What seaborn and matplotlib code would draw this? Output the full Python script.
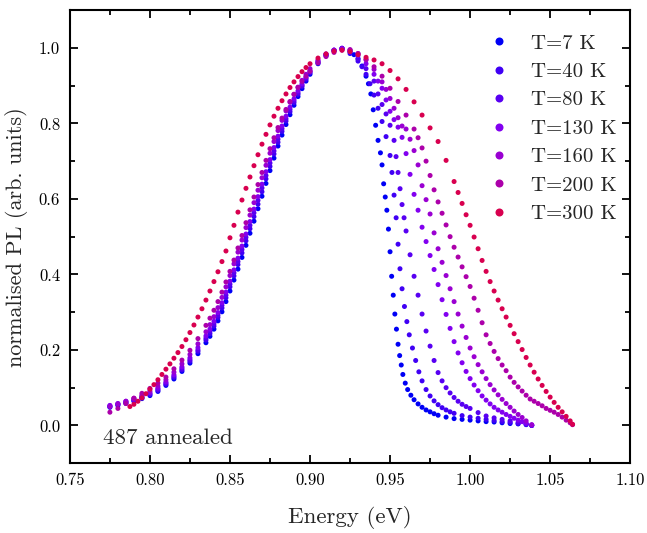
import numpy as np
import pandas as pd
import matplotlib
matplotlib.use("Agg")
import matplotlib.pyplot as plt
import seaborn as sns

# rising edge energies shared by the 7-200 K spectra (eV)
e_rise = [0.775, 0.780, 0.785, 0.790, 0.795, 0.800, 0.805, 0.810, 0.815, 0.820,
          0.825, 0.830, 0.835, 0.8375, 0.840, 0.8425, 0.845, 0.8475, 0.850, 0.8525,
          0.855, 0.8575, 0.860, 0.8625, 0.865, 0.8675, 0.870, 0.8725, 0.875, 0.8775,
          0.880, 0.8825, 0.885, 0.8875, 0.890, 0.8925, 0.895, 0.8975, 0.900, 0.905,
          0.910, 0.915, 0.920]

rise_7 = [0.048, 0.053, 0.058, 0.064, 0.071, 0.079, 0.090, 0.106, 0.123, 0.143,
          0.165, 0.190, 0.219, 0.236, 0.255, 0.277, 0.301, 0.328, 0.356, 0.385,
          0.414, 0.445, 0.477, 0.509, 0.541, 0.574, 0.607, 0.641, 0.675, 0.708,
          0.740, 0.769, 0.797, 0.823, 0.848, 0.871, 0.892, 0.912, 0.930, 0.958,
          0.979, 0.992, 0.998]
rise_40 = [0.050, 0.055, 0.060, 0.066, 0.073, 0.082, 0.093, 0.109, 0.127, 0.147,
           0.170, 0.196, 0.226, 0.243, 0.263, 0.286, 0.311, 0.338, 0.367, 0.396,
           0.426, 0.457, 0.489, 0.521, 0.553, 0.586, 0.619, 0.653, 0.686, 0.719,
           0.750, 0.779, 0.806, 0.831, 0.855, 0.877, 0.898, 0.917, 0.934, 0.961,
           0.981, 0.993, 0.999]
rise_80 = [0.052, 0.057, 0.062, 0.068, 0.075, 0.084, 0.096, 0.112, 0.130, 0.151,
           0.174, 0.200, 0.231, 0.249, 0.269, 0.292, 0.318, 0.345, 0.374, 0.404,
           0.434, 0.466, 0.498, 0.530, 0.563, 0.596, 0.629, 0.662, 0.695, 0.727,
           0.758, 0.786, 0.812, 0.837, 0.860, 0.881, 0.901, 0.920, 0.937, 0.963,
           0.982, 0.994, 0.999]
rise_130 = [0.053, 0.058, 0.064, 0.070, 0.077, 0.087, 0.099, 0.115, 0.134, 0.155,
            0.179, 0.206, 0.237, 0.255, 0.276, 0.299, 0.325, 0.353, 0.382, 0.412,
            0.443, 0.475, 0.507, 0.540, 0.573, 0.606, 0.639, 0.672, 0.704, 0.736,
            0.766, 0.793, 0.819, 0.843, 0.865, 0.886, 0.905, 0.923, 0.940, 0.965,
            0.983, 0.994, 0.998]
rise_160 = [0.050, 0.057, 0.064, 0.072, 0.080, 0.091, 0.104, 0.121, 0.141, 0.163,
            0.188, 0.216, 0.248, 0.267, 0.288, 0.312, 0.339, 0.367, 0.397, 0.428,
            0.459, 0.491, 0.524, 0.557, 0.590, 0.623, 0.656, 0.689, 0.721, 0.752,
            0.781, 0.808, 0.833, 0.856, 0.877, 0.896, 0.914, 0.930, 0.945, 0.968,
            0.984, 0.994, 0.997]
rise_200 = [0.035, 0.045, 0.058, 0.072, 0.085, 0.098, 0.112, 0.128, 0.150, 0.173,
            0.199, 0.230, 0.265, 0.284, 0.305, 0.328, 0.353, 0.380, 0.408, 0.438,
            0.470, 0.503, 0.537, 0.571, 0.605, 0.638, 0.670, 0.702, 0.733, 0.762,
            0.789, 0.814, 0.837, 0.858, 0.877, 0.895, 0.911, 0.925, 0.938, 0.960,
            0.977, 0.988, 0.994]

# 300 K has its own rising edge
e_rise_300 = [0.7875, 0.790, 0.7925, 0.795, 0.7975, 0.800, 0.8025, 0.805, 0.8075, 0.810,
              0.8125, 0.815, 0.8175, 0.820, 0.8225, 0.825, 0.8275, 0.830, 0.8325, 0.835,
              0.8375, 0.840, 0.8425, 0.845, 0.8475, 0.850, 0.8525, 0.855, 0.8575, 0.860,
              0.8625, 0.865, 0.8675, 0.870, 0.8725, 0.875, 0.8775, 0.880, 0.8825, 0.885,
              0.8875, 0.890, 0.8925, 0.895, 0.8975, 0.900, 0.905, 0.910, 0.915, 0.920]
rise_300 = [0.050, 0.056, 0.064, 0.073, 0.084, 0.096, 0.108, 0.121, 0.135, 0.149,
            0.163, 0.178, 0.193, 0.209, 0.227, 0.246, 0.266, 0.287, 0.309, 0.332,
            0.356, 0.381, 0.407, 0.434, 0.462, 0.497, 0.530, 0.565, 0.597, 0.628,
            0.658, 0.688, 0.717, 0.745, 0.771, 0.796, 0.819, 0.840, 0.860, 0.878,
            0.895, 0.910, 0.924, 0.937, 0.948, 0.958, 0.973, 0.984, 0.991, 0.994]

# high energy edges
e_fall_7 = [0.925, 0.9275, 0.930, 0.9325, 0.935, 0.9365, 0.938, 0.9395, 0.941, 0.9425,
            0.944, 0.945, 0.946, 0.947, 0.948, 0.949, 0.950, 0.951, 0.952, 0.953,
            0.954, 0.955, 0.956, 0.957, 0.958, 0.9595, 0.961, 0.963, 0.965, 0.9675,
            0.970, 0.9725, 0.975, 0.9775, 0.980, 0.985, 0.990, 0.995, 1.000, 1.005,
            1.010, 1.015, 1.020, 1.025, 1.030, 1.035, 1.0385]
pl_fall_7 = [0.990, 0.982, 0.970, 0.952, 0.925, 0.905, 0.878, 0.836, 0.795, 0.755,
             0.722, 0.690, 0.640, 0.605, 0.570, 0.520, 0.460, 0.395, 0.345, 0.295,
             0.255, 0.215, 0.185, 0.160, 0.135, 0.112, 0.095, 0.080, 0.068, 0.057,
             0.048, 0.041, 0.036, 0.031, 0.027, 0.022, 0.018, 0.016, 0.014, 0.012,
             0.010, 0.009, 0.007, 0.005, 0.004, 0.002, 0.000]

e_fall_40 = [0.925, 0.930, 0.9325, 0.935, 0.9375, 0.940, 0.9425, 0.945, 0.9475, 0.950,
             0.9512, 0.9525, 0.9538, 0.955, 0.9562, 0.9575, 0.959, 0.9605, 0.962, 0.964,
             0.966, 0.968, 0.970, 0.9725, 0.975, 0.9775, 0.980, 0.9825, 0.985, 0.9875,
             0.990, 0.995, 1.000, 1.005, 1.010, 1.015, 1.020, 1.025, 1.030, 1.035,
             1.0385]
pl_fall_40 = [0.985, 0.965, 0.950, 0.930, 0.905, 0.875, 0.840, 0.805, 0.765, 0.715,
              0.670, 0.610, 0.550, 0.480, 0.415, 0.362, 0.315, 0.275, 0.240, 0.205,
              0.172, 0.142, 0.118, 0.095, 0.078, 0.065, 0.055, 0.047, 0.041, 0.036,
              0.032, 0.026, 0.022, 0.019, 0.016, 0.013, 0.010, 0.008, 0.005, 0.003,
              0.000]

e_fall_80 = [0.925, 0.930, 0.935, 0.940, 0.9425, 0.945, 0.9475, 0.950, 0.9525, 0.95375,
             0.955, 0.95625, 0.9575, 0.95875, 0.960, 0.9625, 0.965, 0.9675, 0.970, 0.9725,
             0.975, 0.9775, 0.980, 0.9825, 0.985, 0.9875, 0.990, 0.9925, 0.995, 0.9975,
             1.000, 1.005, 1.010, 1.015, 1.020, 1.025, 1.030, 1.035, 1.0385]
pl_fall_80 = [0.990, 0.972, 0.945, 0.912, 0.878, 0.850, 0.825, 0.795, 0.755, 0.712,
              0.670, 0.627, 0.585, 0.550, 0.515, 0.452, 0.395, 0.345, 0.295, 0.250,
              0.210, 0.172, 0.140, 0.118, 0.100, 0.086, 0.074, 0.064, 0.056, 0.050,
              0.045, 0.034, 0.025, 0.020, 0.016, 0.012, 0.008, 0.004, 0.000]

e_fall_130 = [0.925, 0.930, 0.935, 0.940, 0.9425, 0.945, 0.9475, 0.950, 0.9525, 0.955,
              0.9575, 0.960, 0.9625, 0.965, 0.9675, 0.970, 0.9725, 0.975, 0.9775, 0.980,
              0.9825, 0.985, 0.9875, 0.990, 0.9925, 0.995, 0.9975, 1.000, 1.0025, 1.005,
              1.0075, 1.010, 1.0125, 1.015, 1.0175, 1.020, 1.0225, 1.025, 1.0275, 1.030,
              1.0325, 1.035, 1.0385]
pl_fall_130 = [0.993, 0.980, 0.958, 0.930, 0.912, 0.893, 0.862, 0.832, 0.810, 0.790,
               0.763, 0.720, 0.665, 0.612, 0.570, 0.525, 0.487, 0.450, 0.413, 0.373,
               0.333, 0.294, 0.257, 0.222, 0.192, 0.166, 0.143, 0.124, 0.107, 0.092,
               0.078, 0.067, 0.057, 0.048, 0.041, 0.035, 0.029, 0.024, 0.019, 0.014,
               0.010, 0.006, 0.001]

e_fall_160 = [0.925, 0.930, 0.935, 0.940, 0.945, 0.9475, 0.950, 0.9525, 0.955, 0.9575,
              0.960, 0.9625, 0.965, 0.9675, 0.970, 0.9725, 0.975, 0.9775, 0.980, 0.9825,
              0.985, 0.9875, 0.990, 0.9925, 0.995, 0.9975, 1.000, 1.0025, 1.005, 1.0075,
              1.010, 1.0125, 1.015, 1.0175, 1.020, 1.0225, 1.025, 1.0275, 1.030, 1.0325,
              1.035, 1.0385]
pl_fall_160 = [0.995, 0.985, 0.968, 0.943, 0.910, 0.890, 0.866, 0.840, 0.815, 0.793,
               0.785, 0.758, 0.728, 0.690, 0.635, 0.598, 0.560, 0.510, 0.468, 0.432,
               0.397, 0.362, 0.328, 0.295, 0.263, 0.233, 0.205, 0.182, 0.161, 0.142,
               0.124, 0.108, 0.094, 0.081, 0.069, 0.058, 0.048, 0.038, 0.029, 0.021,
               0.012, 0.002]

e_fall_200 = [0.925, 0.930, 0.935, 0.940, 0.945, 0.950, 0.955, 0.960, 0.965, 0.9675,
              0.970, 0.9725, 0.975, 0.9775, 0.980, 0.9825, 0.985, 0.9875, 0.990, 0.9925,
              0.995, 0.9975, 1.000, 1.0025, 1.005, 1.0075, 1.010, 1.0125, 1.015, 1.0175,
              1.020, 1.0225, 1.025, 1.0275, 1.030, 1.0325, 1.035, 1.0375, 1.040, 1.0425,
              1.045, 1.0475, 1.050, 1.0525, 1.055, 1.0575, 1.060, 1.0625, 1.064]
pl_fall_200 = [0.995, 0.985, 0.970, 0.950, 0.925, 0.893, 0.858, 0.822, 0.785, 0.762,
               0.735, 0.700, 0.662, 0.624, 0.592, 0.562, 0.531, 0.500, 0.472, 0.446,
               0.420, 0.394, 0.368, 0.337, 0.305, 0.272, 0.240, 0.217, 0.196, 0.177,
               0.160, 0.145, 0.128, 0.114, 0.102, 0.091, 0.080, 0.070, 0.064, 0.058,
               0.052, 0.045, 0.040, 0.035, 0.029, 0.022, 0.014, 0.007, 0.002]

e_fall_300 = [0.925, 0.930, 0.935, 0.940, 0.945, 0.950, 0.955, 0.960, 0.965, 0.970,
              0.975, 0.980, 0.985, 0.990, 0.9925, 0.995, 0.9975, 1.000, 1.0025, 1.005,
              1.0075, 1.010, 1.0125, 1.015, 1.0175, 1.020, 1.0225, 1.025, 1.0275, 1.030,
              1.0325, 1.035, 1.0375, 1.040, 1.0425, 1.045, 1.0475, 1.050, 1.0525, 1.055,
              1.0575, 1.060, 1.0625, 1.064]
pl_fall_300 = [0.990, 0.982, 0.975, 0.968, 0.958, 0.940, 0.918, 0.890, 0.857, 0.822,
               0.788, 0.752, 0.702, 0.646, 0.617, 0.588, 0.558, 0.530, 0.499, 0.468,
               0.437, 0.408, 0.381, 0.356, 0.332, 0.309, 0.287, 0.265, 0.243, 0.222,
               0.201, 0.180, 0.160, 0.141, 0.123, 0.106, 0.090, 0.075, 0.061, 0.048,
               0.036, 0.024, 0.012, 0.003]

labels = ["T=7 K", "T=40 K", "T=80 K", "T=130 K", "T=160 K", "T=200 K", "T=300 K"]
colors = ["#0000f5", "#4000f5", "#5800f2", "#8200f0", "#9a00d2", "#ac00aa", "#d8004f"]

series = [
    (e_rise, rise_7, e_fall_7, pl_fall_7),
    (e_rise, rise_40, e_fall_40, pl_fall_40),
    (e_rise, rise_80, e_fall_80, pl_fall_80),
    (e_rise, rise_130, e_fall_130, pl_fall_130),
    (e_rise, rise_160, e_fall_160, pl_fall_160),
    (e_rise, rise_200, e_fall_200, pl_fall_200),
    (e_rise_300, rise_300, e_fall_300, pl_fall_300),
]

frames = []
for lab, (er, pr, ef, pf) in zip(labels, series):
    frames.append(pd.DataFrame({"Energy": er + ef, "PL": pr + pf, "T": lab}))
df = pd.concat(frames, ignore_index=True)

sns.set_style("ticks")
plt.rcParams["font.family"] = ["cmr10", "DejaVu Serif"]
plt.rcParams["axes.formatter.use_mathtext"] = True
plt.rcParams["mathtext.fontset"] = "cm"

fig = plt.figure(figsize=(6.47, 5.33), dpi=100)
ax = fig.add_axes([0.108, 0.131, 0.866, 0.850])

sns.scatterplot(data=df, x="Energy", y="PL", hue="T", hue_order=labels,
                palette=dict(zip(labels, colors)), s=13, linewidth=0, ax=ax)

ax.set_xlim(0.75, 1.10)
ax.set_ylim(-0.1, 1.1)
ax.set_xticks(np.arange(0.75, 1.101, 0.05))
ax.set_xticks(np.arange(0.775, 1.10, 0.05), minor=True)
ax.set_yticks(np.arange(0.0, 1.01, 0.2))
ax.set_yticks(np.arange(-0.1, 1.1, 0.2), minor=True)
ax.xaxis.set_major_formatter(matplotlib.ticker.FormatStrFormatter("%.2f"))
ax.yaxis.set_major_formatter(matplotlib.ticker.FormatStrFormatter("%.1f"))
ax.tick_params(which="both", direction="in", top=True, right=True, width=1.3,
               labelsize=12, colors="black", pad=7)
ax.tick_params(which="major", length=6)
ax.tick_params(which="minor", length=3.5)
for sp in ax.spines.values():
    sp.set_linewidth(1.5)
    sp.set_color("black")

ax.set_xlabel("Energy (eV)", fontsize=16.5, labelpad=13)
ax.set_ylabel("normalised PL (arb. units)", fontsize=16, labelpad=8)
ax.text(0.059, 0.042, "487 annealed", transform=ax.transAxes, fontsize=16.5)

ax.legend(loc="upper right", bbox_to_anchor=(1.018, 1.0), frameon=False,
          fontsize=15, markerscale=1.6, handlelength=1.0, handletextpad=1.0,
          labelspacing=0.47, borderaxespad=0.75, title=None)

fig.savefig("out.png", dpi=100)
